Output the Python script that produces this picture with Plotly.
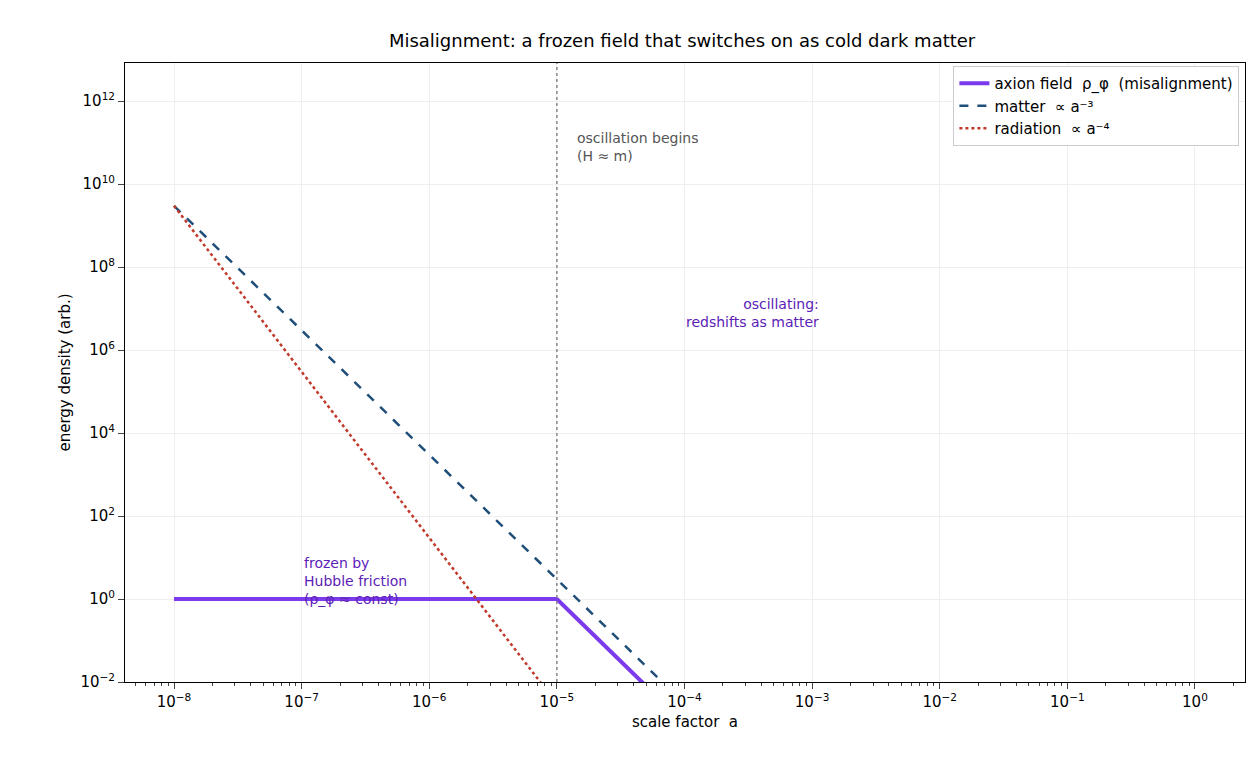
import plotly.graph_objects as go

# values (straight lines in log-log, so endpoints are enough)
axion_a = [1e-8, 1e-5, 1e-3]
axion_rho = [1.0, 1.0, 1e-6]
matter_a = [1e-8, 1e-3]
matter_rho = [3e9, 3e-6]
rad_a = [1e-8, 1e-4]
rad_rho = [3e9, 3e-7]
a_osc = 1e-5

x_ticks = [1e-8, 1e-7, 1e-6, 1e-5, 1e-4, 1e-3, 1e-2, 1e-1, 1]
x_labels = ["10<sup>−8</sup>", "10<sup>−7</sup>", "10<sup>−6</sup>", "10<sup>−5</sup>", "10<sup>−4</sup>",
            "10<sup>−3</sup>", "10<sup>−2</sup>", "10<sup>−1</sup>", "10<sup>0</sup>"]
y_ticks = [1e-2, 1, 1e2, 1e4, 1e6, 1e8, 1e10, 1e12]
y_labels = ["10<sup>−2</sup>", "10<sup>0</sup>", "10<sup>2</sup>", "10<sup>4</sup>", "10<sup>6</sup>",
            "10<sup>8</sup>", "10<sup>10</sup>", "10<sup>12</sup>"]

fig = go.Figure()
fig.add_trace(go.Scatter(x=axion_a, y=axion_rho, mode="lines", name="axion field  ρ_φ  (misalignment)",
                         line=dict(color="#7c3aed", width=4)))
fig.add_trace(go.Scatter(x=matter_a, y=matter_rho, mode="lines", name="matter  ∝ a⁻³",
                         line=dict(color="#1f4e79", width=2.5, dash="dash")))
fig.add_trace(go.Scatter(x=rad_a, y=rad_rho, mode="lines", name="radiation  ∝ a⁻⁴",
                         line=dict(color="#c0392b", width=2.5, dash="dot")))

fig.add_vline(x=a_osc, line=dict(color="#888888", width=1.5, dash="dot"))

fig.add_annotation(x=-4.86, y=11.35, xref="x", yref="y", text="oscillation begins<br>(H ≈ m)",
                   showarrow=False, xanchor="left", yanchor="top", align="left",
                   font=dict(size=14, color="#555555"))
fig.add_annotation(x=-2.93, y=7.35, text="oscillating:<br>redshifts as matter", showarrow=False,
                   xanchor="right", yanchor="top", align="right", font=dict(size=14, color="#5b21b6"))
fig.add_annotation(x=-7.0, y=1.1, text="frozen by<br>Hubble friction<br>(ρ_φ ≈ const)", showarrow=False,
                   xanchor="left", yanchor="top", align="left", font=dict(size=14, color="#5b21b6"))

fig.update_layout(
    width=1260, height=765, paper_bgcolor="white", plot_bgcolor="white",
    font=dict(family="DejaVu Sans", size=14, color="black"),
    title=dict(text="Misalignment: a frozen field that switches on as cold dark matter",
               x=0.535, xanchor="center", y=0.965, font=dict(size=18)),
    margin=dict(l=117, r=23, t=55, b=91),
    legend=dict(x=0.995, y=0.995, xanchor="right", yanchor="top", bordercolor="#cccccc",
                borderwidth=1, bgcolor="rgba(255,255,255,0.9)", font=dict(size=15)),
)
fig.update_xaxes(type="log", range=[-8.384, 0.392], tickvals=x_ticks, ticktext=x_labels,
                 title=dict(text="scale factor  a", standoff=6, font=dict(size=15)), showline=True, mirror=True,
                 linecolor="black", ticks="outside", ticklen=6, gridcolor="#efefef", automargin=False,
                 tickfont=dict(size=15),
                 minor=dict(ticks="outside", ticklen=3, dtick="D1", showgrid=False), zeroline=False)
fig.update_yaxes(type="log", range=[-2, 12.92], tickvals=y_ticks, ticktext=y_labels,
                 title=dict(text="energy density (arb.)", standoff=6, font=dict(size=15)), showline=True, mirror=True,
                 linecolor="black", ticks="outside", ticklen=6, gridcolor="#efefef", zeroline=False,
                 automargin=False, tickfont=dict(size=15))

fig.write_html("out.html")
